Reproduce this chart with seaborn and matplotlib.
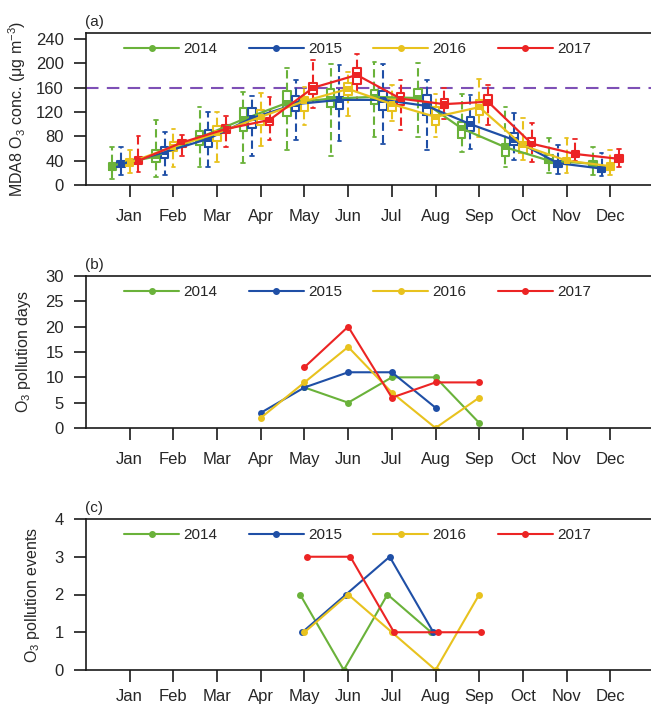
import numpy as np
import pandas as pd
import matplotlib.pyplot as plt
import seaborn as sns
from matplotlib.lines import Line2D

# ---- data ----
years = ['2014', '2015', '2016', '2017']
colors = ['#6ab23a', '#1f4fa6', '#e8c21e', '#ec2424']
months = ['Jan', 'Feb', 'Mar', 'Apr', 'May', 'Jun',
          'Jul', 'Aug', 'Sep', 'Oct', 'Nov', 'Dec']
month_num = list(range(1, 13))

# (a) MDA8 O3 box statistics, one row per year (2014..2017), Jan..Dec
o3_low = [[10, 13, 29, 36, 57, 47, 79, 79, 55, 30, 20, 16],
          [17, 17, 30, 47, 74, 72, 68, 58, 60, 41, 18, 14],
          [19, 29, 38, 64, 98, 114, 106, 79, 79, 41, 20, 16],
          [22, 47, 62, 74, 127, 139, 91, 109, 99, 38, 39, 30]]
o3_q1 = [[25, 38, 66, 89, 113, 129, 133, 139, 77, 48, 36, 30],
         [30, 44, 62, 94, 122, 125, 124, 115, 89, 66, 30, 22],
         [32, 56, 73, 98, 122, 148, 122, 99, 115, 52, 35, 25],
         [35, 62, 85, 98, 150, 166, 131, 126, 132, 64, 46, 38]]
o3_mean = [[32, 47, 78, 108, 135, 142, 145, 143, 93, 62, 40, 35],
           [34, 54, 76, 110, 133, 140, 140, 130, 100, 74, 36, 27],
           [37, 63, 85, 112, 138, 158, 133, 112, 128, 65, 40, 31],
           [40, 70, 92, 107, 160, 181, 142, 133, 137, 68, 51, 43]]
o3_q3 = [[36, 58, 89, 126, 154, 158, 156, 158, 104, 68, 50, 40],
         [39, 62, 90, 126, 147, 144, 154, 148, 112, 85, 40, 30],
         [43, 70, 97, 124, 144, 167, 142, 129, 140, 71, 44, 37],
         [46, 74, 99, 111, 168, 192, 151, 142, 148, 78, 56, 49]]
o3_high = [[63, 107, 129, 153, 193, 199, 202, 200, 150, 129, 77, 63],
           [62, 87, 120, 146, 172, 197, 199, 173, 148, 118, 66, 53],
           [57, 92, 120, 151, 162, 186, 164, 149, 175, 110, 77, 58],
           [81, 83, 114, 144, 206, 216, 173, 159, 164, 102, 75, 60]]
o3_standard = 160

# (b) O3 pollution days, Apr..Sep (nan = no value)
nan = np.nan
days_months = [4, 5, 6, 7, 8, 9]
days_2014 = [nan, 8, 5, 10, 10, 1]
days_2015 = [3, 8, 11, 11, 4, nan]
days_2016 = [2, 9, 16, 7, 0, 6]
days_2017 = [nan, 12, 20, 6, 9, 9]

# (c) O3 pollution events, May..Sep
event_months = [5, 6, 7, 8, 9]
events_2014 = [2, 0, 2, 1, nan]
events_2015 = [1, 2, 3, 1, nan]
events_2016 = [1, 2, 1, 0, 2]
events_2017 = [3, 3, 1, 1, 1]

# ---- style ----
sns.set_theme(style='ticks')
plt.rcParams['font.family'] = ['Liberation Sans', 'DejaVu Sans']
plt.rcParams['mathtext.fontset'] = 'custom'
plt.rcParams['mathtext.rm'] = 'Liberation Sans'
plt.rcParams['mathtext.it'] = 'Liberation Sans:italic'
plt.rcParams['axes.edgecolor'] = '#1a1a1a'
plt.rcParams['axes.linewidth'] = 1.2
FS = 11
TICK_FS = 12
palette = dict(zip(years, colors))

W, H = 651, 707
fig = plt.figure(figsize=(W / 100, H / 100), dpi=100)


def add_axes(top_px, bottom_px):
    left, right = 86, 654
    return fig.add_axes([left / W, 1 - bottom_px / H,
                         (right - left) / W, (bottom_px - top_px) / H])


def style_axis(ax, ymax, yticks, ylabel, label_x, tag, xpad=9):
    ax.set_xlim(0, 13)
    ax.set_ylim(0, ymax)
    ax.set_yticks(yticks)
    ax.set_xticks(month_num)
    ax.set_xticklabels(months)
    ax.tick_params(axis='x', direction='out', length=8.5, width=1.2, pad=xpad,
                   labelsize=TICK_FS, color='#1a1a1a')
    ax.tick_params(axis='y', direction='out', length=9, width=1.2,
                   pad=7, labelsize=TICK_FS, color='#1a1a1a')
    ax.set_xlabel('')
    ax.set_ylabel(ylabel, fontsize=11.5)
    ax.yaxis.set_label_coords(label_x, 0.5)
    ax.annotate(tag, xy=(0, 1), xycoords='axes fraction', xytext=(-1, 3),
                textcoords='offset points', ha='left', va='bottom', fontsize=FS)
    handles = [Line2D([], [], color=c, lw=1.5, marker='o', ms=4) for c in colors]
    ax.legend(handles, years, ncol=4, loc='upper left',
              bbox_to_anchor=(0.067, 0.94), frameon=False, fontsize=FS,
              handlelength=3.6, handletextpad=0.28, columnspacing=2.05,
              borderpad=0, borderaxespad=0)


# ---- (a) boxes + monthly lines ----
ax_a = add_axes(33, 185)
box_offset = -0.1
line_offsets = [-0.4, -0.2, 0.0, 0.2]
rows = []
for i, yr in enumerate(years):
    for j, m in enumerate(month_num):
        for stat in (o3_low, o3_q1, o3_mean, o3_q3, o3_high):
            rows.append({'x': m + box_offset, 'year': yr, 'o3': stat[i][j]})
box_df = pd.DataFrame(rows)

sns.boxplot(data=box_df, x='x', y='o3', hue='year', hue_order=years,
            palette=palette, native_scale=True, fill=False, width=0.8,
            gap=0.15, whis=np.inf, linewidth=1.5, legend=False,
            whiskerprops=dict(linestyle=(0, (4, 2))),
            capprops=dict(linewidth=1.3), ax=ax_a)

line_rows = []
for i, yr in enumerate(years):
    for j, m in enumerate(month_num):
        line_rows.append({'x': m + line_offsets[i], 'year': yr,
                          'o3': o3_mean[i][j]})
line_df = pd.DataFrame(line_rows)
sns.lineplot(data=line_df, x='x', y='o3', hue='year', hue_order=years,
             palette=palette, marker='s', markersize=5, markeredgewidth=0,
             linewidth=1.6, legend=False, errorbar=None, zorder=5, ax=ax_a)
ax_a.axhline(o3_standard, color='#7e50b6', lw=1.5, ls=(0, (6, 4)), zorder=1)
style_axis(ax_a, 250, np.arange(0, 241, 40),
           'MDA8 O$_3$ conc. (μg m$^{-3}$)', -0.102, '(a)')

# ---- (b) pollution days ----
ax_b = add_axes(276, 428)
days_df = pd.DataFrame({
    'x': days_months * 4,
    'year': np.repeat(years, len(days_months)),
    'days': days_2014 + days_2015 + days_2016 + days_2017,
}).dropna()
sns.lineplot(data=days_df, x='x', y='days', hue='year', hue_order=years,
             palette=palette, marker='o', markersize=5, markeredgewidth=0,
             linewidth=1.5, legend=False, errorbar=None, ax=ax_b)
style_axis(ax_b, 30, np.arange(0, 31, 5), 'O$_3$ pollution days', -0.093, '(b)')

# ---- (c) pollution events ----
ax_c = add_axes(519, 670)
event_offsets = [-0.1, -0.05, 0.0, 0.05]
ev_rows = []
for i, (yr, vals) in enumerate(zip(years, [events_2014, events_2015,
                                           events_2016, events_2017])):
    for m, v in zip(event_months, vals):
        ev_rows.append({'x': m + event_offsets[i], 'year': yr, 'events': v})
events_df = pd.DataFrame(ev_rows).dropna()
sns.lineplot(data=events_df, x='x', y='events', hue='year', hue_order=years,
             palette=palette, marker='o', markersize=5, markeredgewidth=0,
             linewidth=1.5, legend=False, errorbar=None, ax=ax_c)
# labels pulled up a little so they stay inside the canvas
style_axis(ax_c, 4, np.arange(0, 5, 1), 'O$_3$ pollution events', -0.0775,
           '(c)', xpad=5.5)

fig.savefig('out.png', dpi=100)
